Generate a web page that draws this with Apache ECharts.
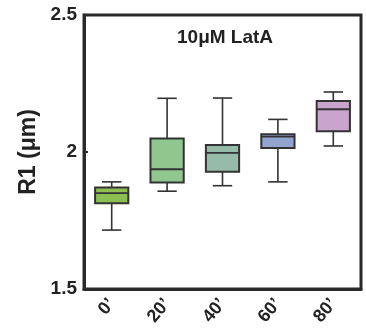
<!DOCTYPE html>
<html>
<head>
<meta charset="utf-8">
<script src="https://cdn.jsdelivr.net/npm/echarts@6/dist/echarts.min.js"></script>
<style>html,body{margin:0;padding:0;background:#fff}#c{width:366px;height:336px}</style>
</head>
<body>
<div id="c"></div>
<script>
var categories = ['0’', '20’', '40’', '60’', '80’'];
var whiskerLow  = [1.715, 1.857, 1.877, 1.891, 2.022];
var q1          = [1.813, 1.889, 1.928, 2.015, 2.076];
var median      = [1.850, 1.937, 1.997, 2.056, 2.156];
var q3          = [1.870, 2.049, 2.026, 2.065, 2.186];
var whiskerHigh = [1.891, 2.196, 2.197, 2.119, 2.219];
var boxColors = ['#8cbf52', '#8fc78f', '#94bca9', '#93a4d0', '#c9a4cd'];
var yTicks = [1.5, 2, 2.5];

var FONT = 'Arial, "Liberation Sans", sans-serif';
var data = categories.map(function (c, i) {
  return [i, whiskerLow[i], q1[i], median[i], q3[i], whiskerHigh[i]];
});

var chart = echarts.init(document.getElementById('c'), null, {renderer: 'canvas'});
chart.setOption({
  animation: false,
  backgroundColor: '#fff',
  title: {
    text: '10μM LatA',
    left: 172, top: 23,
    textStyle: {fontFamily: FONT, fontWeight: 'bold', fontSize: 19, color: '#222'}
  },
  grid: {
    left: 84, right: 5, top: 15, bottom: 47,
    show: true, borderColor: '#2a2a2a', borderWidth: 3, backgroundColor: 'transparent'
  },
  xAxis: {
    type: 'category',
    data: categories,
    boundaryGap: true,
    axisLine: {lineStyle: {color: '#2a2a2a', width: 3}},
    axisTick: {inside: true, length: 6, alignWithLabel: true, lineStyle: {color: '#2a2a2a', width: 2}},
    axisLabel: {rotate: 50, margin: 12, fontFamily: FONT, fontWeight: 'bold', fontSize: 18, color: '#222'},
    splitLine: {show: false}
  },
  yAxis: {
    type: 'value',
    min: 1.5, max: 2.5, interval: 0.5,
    name: 'R1 (μm)',
    nameLocation: 'middle',
    nameGap: 41,
    nameTextStyle: {fontFamily: FONT, fontWeight: 'bold', fontSize: 23, color: '#222'},
    axisLine: {show: true, lineStyle: {color: '#2a2a2a', width: 3}},
    axisTick: {show: true, inside: true, length: 4, lineStyle: {color: '#2a2a2a', width: 2}},
    axisLabel: {
      margin: 7, fontFamily: FONT, fontWeight: 'bold', fontSize: 19, color: '#222',
      formatter: function (v) { return yTicks.indexOf(v) >= 0 ? String(v) : ''; }
    },
    splitLine: {show: false}
  },
  series: [{
    type: 'custom',
    data: data,
    encode: {x: 0, y: [1, 2, 3, 4, 5]},
    renderItem: function (params, api) {
      var i = api.value(0);
      var band = api.size([1, 0])[0];
      var bw = band * 0.6, cw = band * 0.35;
      var pLow = api.coord([i, api.value(1)]);
      var pQ1 = api.coord([i, api.value(2)]);
      var pMed = api.coord([i, api.value(3)]);
      var pQ3 = api.coord([i, api.value(4)]);
      var pHigh = api.coord([i, api.value(5)]);
      var x = pMed[0];
      var ls = {stroke: '#333', lineWidth: 1.6};
      return {
        type: 'group',
        children: [
          {type: 'line', shape: {x1: x, y1: pHigh[1], x2: x, y2: pQ3[1]}, style: ls},
          {type: 'line', shape: {x1: x, y1: pQ1[1], x2: x, y2: pLow[1]}, style: ls},
          {type: 'line', shape: {x1: x - cw / 2, y1: pHigh[1], x2: x + cw / 2, y2: pHigh[1]}, style: ls},
          {type: 'line', shape: {x1: x - cw / 2, y1: pLow[1], x2: x + cw / 2, y2: pLow[1]}, style: ls},
          {type: 'rect', shape: {x: x - bw / 2, y: pQ3[1], width: bw, height: pQ1[1] - pQ3[1]},
            style: {fill: boxColors[params.dataIndex], stroke: '#333', lineWidth: 2}},
          {type: 'line', shape: {x1: x - bw / 2, y1: pMed[1], x2: x + bw / 2, y2: pMed[1]},
            style: {stroke: '#333', lineWidth: 1.8}}
        ]
      };
    }
  }]
});
</script>
</body>
</html>
